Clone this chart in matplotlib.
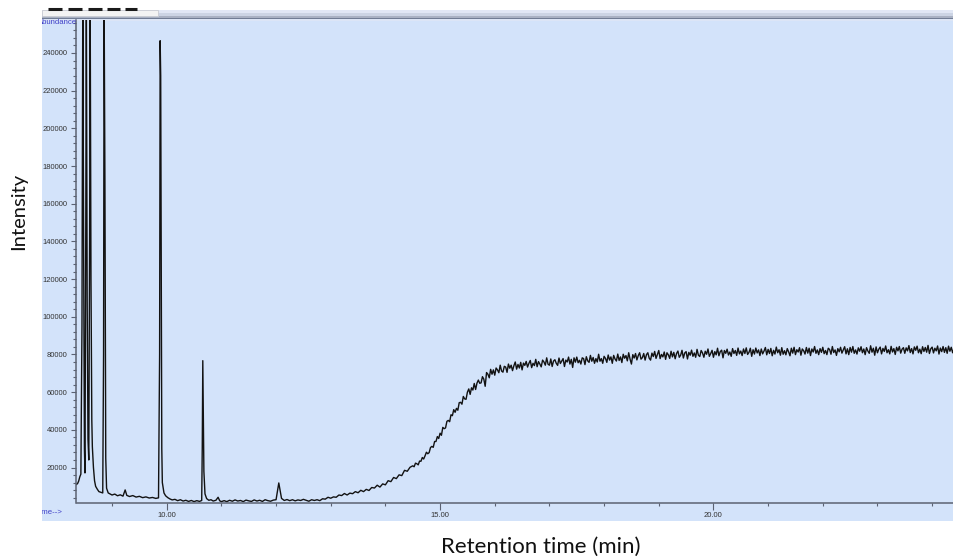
import numpy as np
import matplotlib.pyplot as plt
from matplotlib.patches import Rectangle
from matplotlib.lines import Line2D
from matplotlib.ticker import MultipleLocator, FixedLocator, FuncFormatter
from matplotlib.transforms import Bbox, TransformedBbox

# injection peaks and early baseline (min, kcounts)
peak_times = [
    8.35, 8.37, 8.39, 8.41, 8.43, 8.45, 8.465, 8.48, 8.495, 8.505,
    8.52, 8.53, 8.545, 8.56, 8.575, 8.59, 8.60, 8.615, 8.63, 8.64,
    8.66, 8.68, 8.70, 8.73, 8.76, 8.80, 8.83, 8.845, 8.855, 8.87,
    8.885, 8.90, 8.93, 8.96, 9.00, 9.05, 9.10, 9.15, 9.20, 9.24,
    9.27, 9.32, 9.38, 9.44, 9.50, 9.56, 9.62, 9.68, 9.74, 9.80,
    9.85, 9.87, 9.88, 9.89, 9.90, 9.91, 9.92, 9.95, 9.98, 10.02,
    10.06, 10.10, 10.15, 10.20, 10.25, 10.30, 10.35, 10.40, 10.45, 10.50,
    10.55, 10.60, 10.64, 10.65, 10.66, 10.67, 10.68, 10.70, 10.73, 10.77,
    10.81, 10.85, 10.90, 10.94, 10.97, 11.00,
]
peak_abund = [
    11.0, 11.5, 12.8, 15.0, 16.5, 95, 270, 140, 30, 17.1,
    150, 270, 110, 35, 24, 140, 270, 120, 45, 31,
    20, 13, 10, 8.5, 7.2, 6.8, 6.5, 80, 270, 171,
    25, 9, 6.5, 6.0, 5.4, 5.9, 5.0, 5.5, 4.8, 8.1,
    5.2, 4.6, 5.1, 4.3, 4.7, 4.0, 4.4, 3.8, 4.1, 3.6,
    3.9, 80, 246.5, 228, 123, 30, 12, 6.5, 5.0, 4.0,
    3.3, 2.8, 3.1, 2.4, 2.9, 2.2, 2.6, 2.0, 2.5, 1.9,
    2.4, 2.0, 2.5, 30, 76.7, 46.8, 18, 6, 3.5, 2.6,
    2.9, 2.2, 2.6, 4.2, 2.3, 1.9,
]

# baseline and start of the bleed rise
rise_times = [
    11.05, 11.10, 11.15, 11.20, 11.25, 11.30, 11.35, 11.40, 11.45, 11.50,
    11.55, 11.60, 11.65, 11.70, 11.75, 11.80, 11.85, 11.90, 11.95, 12.00,
    12.05, 12.10, 12.15, 12.20, 12.25, 12.30, 12.35, 12.40, 12.45, 12.50,
    12.55, 12.60, 12.65, 12.70, 12.75, 12.80, 12.85, 12.90, 12.95, 13.00,
    13.05, 13.10, 13.15, 13.20, 13.25, 13.30, 13.35, 13.40, 13.45, 13.50,
    13.55, 13.60, 13.65, 13.70, 13.75, 13.80, 13.85, 13.90, 13.95, 14.00,
    14.05, 14.10, 14.15, 14.20, 14.25, 14.30, 14.35, 14.40, 14.45,
]
rise_abund = [
    2.4, 1.9, 2.6, 2.1, 2.8, 2.2, 2.5, 1.9, 2.7, 2.3,
    2.0, 2.8, 2.2, 2.6, 2.0, 2.9, 2.4, 2.1, 2.7, 2.9,
    11.8, 3.6, 2.5, 3.0, 2.4, 2.9, 2.3, 2.8, 2.5, 3.1,
    2.6, 2.1, 2.9, 2.5, 2.9, 2.4, 3.4, 3.2, 4.2, 3.7,
    4.4, 4.2, 5.4, 5.1, 6.2, 5.4, 6.4, 6.1, 7.2, 6.6,
    7.9, 7.2, 8.4, 7.8, 9.4, 9.1, 10.6, 9.6, 11.3, 10.8,
    13.0, 12.5, 14.7, 14.1, 16.1, 15.7, 18.5, 18.0, 20.1,
]

# upper rise and noisy plateau, finer scan spacing
plateau_times = [
    14.500, 14.525, 14.550, 14.575, 14.600, 14.625, 14.650, 14.675, 14.700, 14.725,
    14.750, 14.775, 14.800, 14.825, 14.850, 14.875, 14.900, 14.925, 14.950, 14.975,
    15.000, 15.025, 15.050, 15.075, 15.100, 15.125, 15.150, 15.175, 15.200, 15.225,
    15.250, 15.275, 15.300, 15.325, 15.350, 15.375, 15.400, 15.425, 15.450, 15.475,
    15.500, 15.525, 15.550, 15.575, 15.600, 15.625, 15.650, 15.675, 15.700, 15.725,
    15.750, 15.775, 15.800, 15.825, 15.850, 15.875, 15.900, 15.925, 15.950, 15.975,
    16.000, 16.025, 16.050, 16.075, 16.100, 16.125, 16.150, 16.175, 16.200, 16.225,
    16.250, 16.275, 16.300, 16.325, 16.350, 16.375, 16.400, 16.425, 16.450, 16.475,
    16.500, 16.525, 16.550, 16.575, 16.600, 16.625, 16.650, 16.675, 16.700, 16.725,
    16.750, 16.775, 16.800, 16.825, 16.850, 16.875, 16.900, 16.925, 16.950, 16.975,
    17.000, 17.025, 17.050, 17.075, 17.100, 17.125, 17.150, 17.175, 17.200, 17.225,
    17.250, 17.275, 17.300, 17.325, 17.350, 17.375, 17.400, 17.425, 17.450, 17.475,
    17.500, 17.525, 17.550, 17.575, 17.600, 17.625, 17.650, 17.675, 17.700, 17.725,
    17.750, 17.775, 17.800, 17.825, 17.850, 17.875, 17.900, 17.925, 17.950, 17.975,
    18.000, 18.025, 18.050, 18.075, 18.100, 18.125, 18.150, 18.175, 18.200, 18.225,
    18.250, 18.275, 18.300, 18.325, 18.350, 18.375, 18.400, 18.425, 18.450, 18.475,
    18.500, 18.525, 18.550, 18.575, 18.600, 18.625, 18.650, 18.675, 18.700, 18.725,
    18.750, 18.775, 18.800, 18.825, 18.850, 18.875, 18.900, 18.925, 18.950, 18.975,
    19.000, 19.025, 19.050, 19.075, 19.100, 19.125, 19.150, 19.175, 19.200, 19.225,
    19.250, 19.275, 19.300, 19.325, 19.350, 19.375, 19.400, 19.425, 19.450, 19.475,
    19.500, 19.525, 19.550, 19.575, 19.600, 19.625, 19.650, 19.675, 19.700, 19.725,
    19.750, 19.775, 19.800, 19.825, 19.850, 19.875, 19.900, 19.925, 19.950, 19.975,
    20.000, 20.025, 20.050, 20.075, 20.100, 20.125, 20.150, 20.175, 20.200, 20.225,
    20.250, 20.275, 20.300, 20.325, 20.350, 20.375, 20.400, 20.425, 20.450, 20.475,
    20.500, 20.525, 20.550, 20.575, 20.600, 20.625, 20.650, 20.675, 20.700, 20.725,
    20.750, 20.775, 20.800, 20.825, 20.850, 20.875, 20.900, 20.925, 20.950, 20.975,
    21.000, 21.025, 21.050, 21.075, 21.100, 21.125, 21.150, 21.175, 21.200, 21.225,
    21.250, 21.275, 21.300, 21.325, 21.350, 21.375, 21.400, 21.425, 21.450, 21.475,
    21.500, 21.525, 21.550, 21.575, 21.600, 21.625, 21.650, 21.675, 21.700, 21.725,
    21.750, 21.775, 21.800, 21.825, 21.850, 21.875, 21.900, 21.925, 21.950, 21.975,
    22.000, 22.025, 22.050, 22.075, 22.100, 22.125, 22.150, 22.175, 22.200, 22.225,
    22.250, 22.275, 22.300, 22.325, 22.350, 22.375, 22.400, 22.425, 22.450, 22.475,
    22.500, 22.525, 22.550, 22.575, 22.600, 22.625, 22.650, 22.675, 22.700, 22.725,
    22.750, 22.775, 22.800, 22.825, 22.850, 22.875, 22.900, 22.925, 22.950, 22.975,
    23.000, 23.025, 23.050, 23.075, 23.100, 23.125, 23.150, 23.175, 23.200, 23.225,
    23.250, 23.275, 23.300, 23.325, 23.350, 23.375, 23.400, 23.425, 23.450, 23.475,
    23.500, 23.525, 23.550, 23.575, 23.600, 23.625, 23.650, 23.675, 23.700, 23.725,
    23.750, 23.775, 23.800, 23.825, 23.850, 23.875, 23.900, 23.925, 23.950, 23.975,
    24.000, 24.025, 24.050, 24.075, 24.100, 24.125, 24.150, 24.175, 24.200, 24.225,
    24.250, 24.275, 24.300, 24.325, 24.350, 24.375, 24.400,
]
plateau_abund = [
    20.9, 20.4, 22.3, 22.0, 21.4, 23.4, 23.3, 25.3, 24.5, 26.2,
    28.1, 27.3, 27.9, 30.6, 31.2, 30.7, 33.8, 33.8, 36.4, 35.4,
    38.2, 37.1, 41.3, 40.6, 41.0, 44.5, 45.0, 44.3, 48.0, 47.5,
    50.7, 49.3, 51.4, 50.4, 54.4, 54.6, 53.6, 57.7, 56.4, 56.2,
    60.0, 61.7, 58.8, 62.3, 61.1, 64.6, 61.4, 64.8, 66.4, 64.7,
    64.9, 68.2, 66.9, 63.1, 70.4, 69.5, 67.6, 72.1, 69.5, 71.8,
    69.0, 72.8, 71.8, 70.3, 74.3, 71.2, 70.6, 73.7, 73.3, 70.5,
    74.9, 72.7, 74.3, 71.4, 74.0, 76.0, 72.2, 74.7, 72.8, 75.8,
    71.8, 75.4, 74.2, 76.3, 73.3, 75.3, 76.8, 73.0, 75.3, 74.1,
    77.4, 73.5, 76.2, 74.9, 73.4, 77.0, 76.0, 74.3, 78.2, 74.8,
    74.3, 77.6, 73.6, 76.5, 77.2, 75.3, 74.2, 78.1, 75.2, 76.5,
    77.8, 73.6, 77.0, 76.0, 78.6, 74.9, 77.4, 73.1, 78.2, 75.9,
    78.6, 75.6, 76.9, 74.9, 78.2, 77.8, 74.6, 78.8, 76.6, 75.8,
    79.5, 76.4, 78.4, 75.3, 77.8, 76.0, 80.1, 76.4, 77.8, 75.3,
    79.0, 77.9, 75.8, 79.7, 77.0, 78.7, 75.3, 79.5, 77.6, 76.5,
    80.2, 76.8, 78.7, 75.7, 80.1, 78.0, 79.4, 76.6, 80.9, 77.5,
    74.9, 79.9, 78.1, 80.5, 77.1, 79.4, 80.9, 77.5, 78.3, 80.5,
    77.0, 79.9, 80.9, 78.0, 77.0, 80.7, 78.9, 81.6, 77.9, 80.0,
    82.1, 77.8, 80.0, 78.7, 81.3, 77.4, 80.9, 79.8, 77.9, 81.7,
    78.7, 81.1, 77.7, 80.5, 81.8, 78.5, 79.6, 82.2, 78.1, 80.8,
    81.5, 77.6, 81.1, 79.6, 82.3, 79.0, 80.8, 78.5, 82.7, 79.6,
    78.9, 82.1, 80.8, 78.5, 81.7, 80.1, 82.9, 79.0, 80.5, 82.2,
    78.5, 81.5, 79.8, 83.3, 79.3, 81.5, 82.3, 78.2, 82.1, 80.6,
    82.8, 79.7, 81.3, 79.0, 83.1, 80.5, 82.1, 79.5, 83.4, 80.3,
    81.8, 79.4, 82.9, 80.5, 83.5, 80.0, 81.1, 83.3, 79.0, 82.5,
    80.2, 83.4, 80.8, 82.4, 79.4, 82.9, 80.3, 81.8, 83.7, 79.8,
    82.7, 80.5, 83.2, 79.3, 82.2, 80.2, 83.9, 80.9, 82.5, 79.6,
    83.6, 80.1, 82.0, 79.8, 83.1, 81.4, 79.3, 83.3, 80.7, 83.8,
    79.9, 82.5, 81.3, 83.6, 79.6, 82.9, 82.0, 80.2, 83.7, 80.7,
    83.3, 79.4, 82.9, 81.3, 84.2, 80.6, 82.4, 79.9, 83.1, 81.1,
    83.8, 80.4, 82.1, 79.9, 83.3, 82.6, 80.1, 84.2, 81.0, 82.4,
    79.5, 83.1, 81.4, 83.8, 80.7, 82.4, 84.1, 80.3, 83.0, 79.9,
    83.7, 81.2, 84.2, 80.6, 82.4, 80.2, 83.5, 81.7, 84.1, 80.9,
    82.9, 79.9, 83.6, 81.8, 80.6, 84.6, 81.2, 83.3, 79.6, 84.0,
    80.9, 82.8, 83.9, 80.3, 83.2, 81.6, 84.5, 80.9, 82.5, 80.3,
    84.3, 81.3, 83.1, 80.0, 83.8, 81.9, 84.2, 80.7, 82.8, 83.6,
    80.6, 83.5, 81.9, 84.7, 81.0, 83.1, 80.3, 84.0, 82.2, 84.4,
    80.9, 82.8, 80.4, 84.1, 81.6, 83.7, 81.2, 84.8, 80.5, 83.0,
    83.9, 80.8, 83.3, 81.9, 84.5, 80.2, 83.4, 81.5, 84.2, 81.1,
    83.6, 80.6, 84.4, 81.7, 83.8, 80.9, 83.2,
]

x_major = [10, 15, 20]
y_major = list(range(20000, 240001, 20000))

W, H = 954, 559
PANEL = '#d3e3fa'
AXIS = '#5b6272'
TICK = '#333333'
LABEL_BLUE = '#4040c8'


def fx(px):
    return px / W


def fy(py):
    return 1 - py / H


times = np.concatenate([peak_times, rise_times, plateau_times])
abund = np.concatenate([peak_abund, rise_abund, plateau_abund]) * 1000

fig = plt.figure(figsize=(W / 100, H / 100), dpi=100)
fig.patch.set_facecolor('white')

# instrument window background and title strip
panel = Rectangle((fx(41.5), fy(521)), fx(954) - fx(41.5) + 0.01, fy(10) - fy(521),
                  transform=fig.transFigure, facecolor=PANEL, edgecolor='none', zorder=-5)
fig.add_artist(panel)
strips = [(10, 13.3, '#e1e7f5'), (13.3, 16, '#ccd4e4'), (16, 18, '#a9b1c3'),
          (18, 19.3, '#717d95'), (19.3, 21, '#dce5f6')]
for top, bot, col in strips:
    fig.add_artist(Rectangle((fx(41.5), fy(bot)), fx(954) - fx(41.5) + 0.01, fy(top) - fy(bot),
                             transform=fig.transFigure, facecolor=col, edgecolor='none', zorder=-4))
fig.add_artist(Rectangle((fx(42), fy(16)), fx(158) - fx(42), fy(10) - fy(16),
                         transform=fig.transFigure, facecolor='#f3f3f3', edgecolor='#c9cbd2',
                         linewidth=0.6, zorder=-3))
for x0, x1 in [(48, 62), (68, 82), (88, 102), (107, 120), (125, 137)]:
    fig.add_artist(Line2D([fx(x0), fx(x1)], [fy(8.5), fy(8.5)], transform=fig.transFigure,
                          color='#1a1a1a', linewidth=2.2, solid_capstyle='butt'))

ax = fig.add_axes([fx(76.5), fy(503.3), fx(954) - fx(76.5), fy(20) - fy(503.3)])
ax.patch.set_visible(False)
ax.plot(times, abund, color='#121212', linewidth=1.0)

ax.set_xlim(8.35, 24.40)
ax.set_ylim(1000, 257500)
for side in ['top', 'right']:
    ax.spines[side].set_visible(False)
for side in ['left', 'bottom']:
    ax.spines[side].set_color(AXIS)
    ax.spines[side].set_linewidth(1.1)

ax.xaxis.set_major_locator(FixedLocator(x_major))
ax.xaxis.set_minor_locator(MultipleLocator(1))
ax.xaxis.set_major_formatter(FuncFormatter(lambda v, p: f'{v:.2f}'))
ax.yaxis.set_major_locator(FixedLocator(y_major))
ax.yaxis.set_minor_locator(MultipleLocator(4000))
ax.yaxis.set_major_formatter(FuncFormatter(lambda v, p: f'{int(v)}'))

ax.tick_params(axis='x', which='major', length=5, width=0.8, color=AXIS, pad=1.5,
               labelsize=5.5, labelcolor=TICK)
ax.tick_params(axis='x', which='minor', length=2.2, width=0.8, color=AXIS)
ax.tick_params(axis='y', which='major', length=3.6, width=0.8, color=AXIS, pad=2.8,
               labelsize=5.5, labelcolor=TICK)
ax.tick_params(axis='y', which='minor', length=2.0, width=0.8, color=AXIS)
for lab in ax.get_xticklabels() + ax.get_yticklabels():
    lab.set_family('Liberation Sans')

clip = TransformedBbox(Bbox([[fx(41.5), fy(521)], [1.0, fy(10)]]), fig.transFigure)
for txt, xp, yp in [('Abundance', 77, 22.5), ('Time-->', 63, 513)]:
    t = fig.text(fx(xp), fy(yp), txt, ha='right', va='center', fontsize=5.6,
                 color=LABEL_BLUE, family='Liberation Sans')
    t.set_clip_box(clip)
    t.set_clip_on(True)

fig.text(fx(18.5), fy(211.5), 'Intensity', rotation=90, ha='center', va='center',
         fontsize=14.5, family='Lato', color='#111111')
fig.text(fx(540.5), fy(553), 'Retention time (min)', ha='center', va='baseline',
         fontsize=16, family='Lato', color='#111111')

fig.savefig('out.png', dpi=100)
